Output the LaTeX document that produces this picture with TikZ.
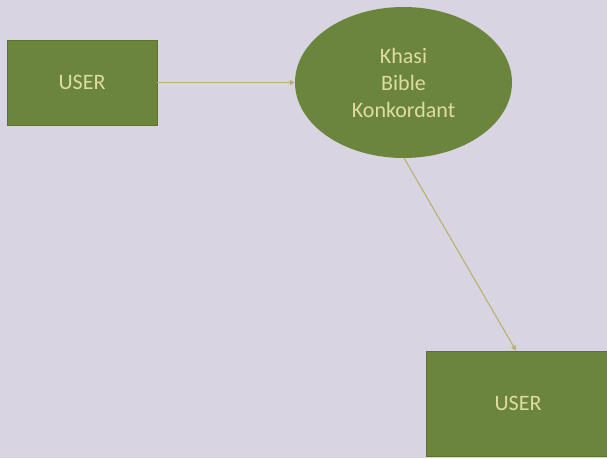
\documentclass[tikz,border=0pt]{standalone}
\usepackage{fontspec}
\setmainfont{Carlito}
\usetikzlibrary{shapes.geometric,arrows.meta}
\definecolor{bg}{RGB}{216,212,226}
\definecolor{boxgreen}{RGB}{107,134,60}
\definecolor{txt}{RGB}{222,220,160}
\definecolor{link}{RGB}{184,178,110}
\begin{document}
\begin{tikzpicture}[x=1pt,y=-1pt,
  box/.style={draw=boxgreen!85!black,line width=0.6pt,fill=boxgreen,text=txt,inner sep=0pt,
    font=\fontsize{22}{27}\selectfont},
  oval/.style={ellipse,fill=boxgreen,text=txt,inner sep=0pt,align=center,
    font=\fontsize{22}{27}\selectfont},
  conn/.style={draw=link,line width=1.1pt,-{Triangle[length=5pt,width=5pt]}}]
\path[fill=bg] (0,0) rectangle (607,458);
\useasboundingbox (0,0) rectangle (607,458);
\node[box,minimum width=150pt,minimum height=85pt] (u1) at (82,82.5) {USER};
\node[oval,minimum width=217pt,minimum height=151pt] (k) at (403.5,82.5) {Khasi\\Bible\\Konkordant};
\node[box,minimum width=184pt,minimum height=105pt] (u2) at (518,403.5) {USER};
\coordinate (a2s) at (404,158);
\draw[conn] (u1.east) -- (k.west);
\draw[conn] (a2s) -- ([xshift=-2pt]u2.north);
\end{tikzpicture}
\end{document}
